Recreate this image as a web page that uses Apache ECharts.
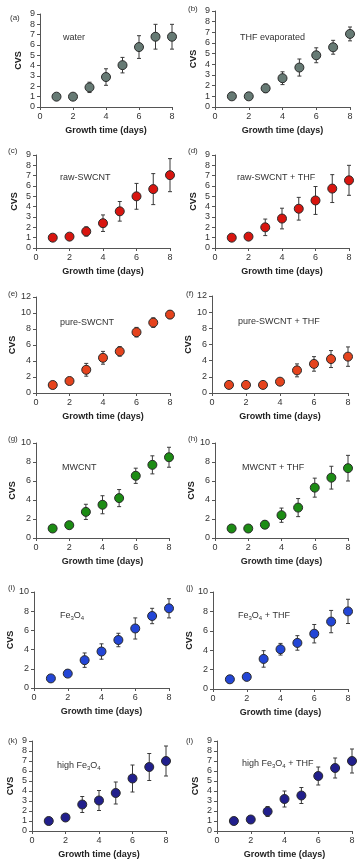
<!DOCTYPE html>
<html>
<head>
<meta charset="utf-8">
<script src="https://cdn.jsdelivr.net/npm/echarts@6/dist/echarts.min.js"></script>
<style>
  html, body { margin: 0; padding: 0; background: #fff; }
  #chart { width: 358px; height: 860px; }
</style>
</head>
<body>
<div id="chart"></div>
<script>
// growth time (days)
const days = [1, 2, 3, 4, 5, 6, 7, 8]

// mean CVS and error (+/-) for each condition
const waterMean = [1, 1, 1.9, 2.9, 4.05, 5.8, 6.8, 6.8]
const waterErr = [0, 0, 0.5, 0.8, 0.75, 1.1, 1.2, 1.2]
const thfEvapMean = [1, 1, 1.75, 2.7, 3.7, 4.85, 5.6, 6.85]
const thfEvapErr = [0, 0, 0.4, 0.6, 0.8, 0.7, 0.65, 0.65]
const rawMean = [1, 1.1, 1.6, 2.4, 3.55, 5.0, 5.7, 7.05]
const rawErr = [0, 0.15, 0.45, 0.8, 0.95, 1.25, 1.5, 1.6]
const rawThfMean = [1, 1.1, 2.0, 2.85, 3.8, 4.6, 5.75, 6.55]
const rawThfErr = [0, 0.15, 0.8, 1.0, 1.1, 1.35, 1.35, 1.45]
const pureMean = [1, 1.5, 2.9, 4.4, 5.2, 7.6, 8.8, 9.8]
const pureErr = [0, 0.2, 0.8, 0.8, 0.6, 0.6, 0.6, 0.5]
const pureThfMean = [1, 1, 1, 1.4, 2.8, 3.6, 4.2, 4.5]
const pureThfErr = [0, 0, 0, 0.4, 0.8, 0.9, 1.05, 1.2]
const mwMean = [1, 1.35, 2.75, 3.5, 4.2, 6.55, 7.7, 8.5]
const mwErr = [0, 0.15, 0.8, 0.95, 0.9, 0.8, 0.95, 1.05]
const mwThfMean = [1, 1, 1.4, 2.4, 3.2, 5.3, 6.35, 7.35]
const mwThfErr = [0, 0, 0.4, 0.75, 0.95, 1.0, 1.2, 1.35]
const feMean = [1, 1.5, 2.9, 3.8, 5.0, 6.2, 7.5, 8.3]
const feErr = [0, 0.2, 0.75, 0.8, 0.7, 1.1, 0.8, 1.0]
const feThfMean = [1, 1.25, 3.1, 4.1, 4.75, 5.7, 6.95, 8.0]
const feThfErr = [0, 0.1, 0.85, 0.6, 0.75, 0.95, 1.15, 1.25]
const highFeMean = [1, 1.35, 2.65, 3.05, 3.8, 5.25, 6.4, 7.0]
const highFeErr = [0, 0.1, 0.8, 1.0, 1.1, 1.35, 1.35, 1.5]
const highFeThfMean = [1, 1.15, 1.95, 3.2, 3.55, 5.5, 6.3, 7.0]
const highFeThfErr = [0, 0.1, 0.5, 0.8, 0.8, 0.9, 1.0, 1.2]

const panelTags = ['(a)', '(b)', '(c)', '(d)', '(e)', '(f)', '(g)', '(h)', '(i)', '(j)', '(k)', '(l)']
const panelNames = [
  'water', 'THF evaporated',
  'raw-SWCNT', 'raw-SWCNT + THF',
  'pure-SWCNT', 'pure-SWCNT + THF',
  'MWCNT', 'MWCNT + THF',
  'Fe{s|3}O{s|4}', 'Fe{s|3}O{s|4} + THF',
  'high Fe{s|3}O{s|4}', 'high Fe{s|3}O{s|4} + THF'
]
const yMax = [9, 9, 9, 9, 12, 12, 10, 10, 10, 10, 9, 9]
const yStep = [1, 1, 1, 1, 2, 2, 2, 2, 2, 2, 1, 1]
const means = [waterMean, thfEvapMean, rawMean, rawThfMean, pureMean, pureThfMean,
  mwMean, mwThfMean, feMean, feThfMean, highFeMean, highFeThfMean]
const errs = [waterErr, thfEvapErr, rawErr, rawThfErr, pureErr, pureThfErr,
  mwErr, mwThfErr, feErr, feThfErr, highFeErr, highFeThfErr]

// layout: [left, top, width, height] of each plot area
const boxes = [
  [40, 14, 132, 93], [215, 11, 135, 96],
  [36, 155, 134, 93], [215, 155, 134, 93],
  [36, 297, 134, 96], [212, 296, 136, 97],
  [36, 443, 133, 95], [215, 443, 133, 95],
  [34, 592, 135, 96], [213, 592, 135, 97],
  [32, 741, 134, 94], [217, 741, 135, 94]
]
const tagPos = [
  [5, 9], [183, 0], [3, 142], [183, 142], [3, 285], [181, 285],
  [3, 430], [183, 430], [3, 579], [181, 579], [3, 732], [181, 732]
]
const namePos = [
  [58, 28], [235, 28], [55, 168], [232, 168], [55, 313], [233, 312],
  [57, 458], [237, 458], [55, 606], [233, 606], [52, 756], [237, 754]
]
const colors = ['#667a74', '#667a74', '#d8150f', '#d8150f', '#e5431d', '#e5431d',
  '#1c8c14', '#1c8c14', '#2346d6', '#2346d6', '#211f8c', '#211f8c']

const chart = echarts.init(document.getElementById('chart'), null, { renderer: 'canvas' })

const font = 'Liberation Sans, Arial, sans-serif'
const grid = [], xAxis = [], yAxis = [], series = [], title = []

boxes.forEach((b, i) => {
  grid.push({ left: b[0], top: b[1], width: b[2], height: b[3] })
  xAxis.push({
    type: 'value', gridIndex: i, min: 0, max: 8, interval: 2,
    name: 'Growth time (days)', nameLocation: 'middle', nameGap: 19,
    nameTextStyle: { fontFamily: font, fontSize: 9, fontWeight: 'bold', color: '#222' },
    axisLine: { lineStyle: { color: '#555', width: 1 } },
    axisTick: { length: 3, lineStyle: { color: '#555' } },
    axisLabel: { fontFamily: font, fontSize: 9, color: '#333', margin: 5 },
    splitLine: { show: false }
  })
  yAxis.push({
    type: 'value', gridIndex: i, min: 0, max: yMax[i], interval: yStep[i],
    name: 'CVS', nameLocation: 'middle', nameGap: 17,
    nameTextStyle: { fontFamily: font, fontSize: 9, fontWeight: 'bold', color: '#222' },
    axisLine: { show: true, lineStyle: { color: '#555', width: 1 } },
    axisTick: { show: true, length: 3, lineStyle: { color: '#555' } },
    axisLabel: { fontFamily: font, fontSize: 9, color: '#333', margin: 5 },
    splitLine: { show: false }
  })
  const m = means[i], e = errs[i]
  series.push({
    type: 'custom', xAxisIndex: i, yAxisIndex: i,
    data: days.map((d, k) => [d, m[k] - e[k], m[k] + e[k]]),
    renderItem: (params, api) => {
      const lo = api.coord([api.value(0), api.value(1)])
      const hi = api.coord([api.value(0), api.value(2)])
      if (Math.abs(hi[1] - lo[1]) < 1) return null
      const st = { stroke: '#3a3a3a', lineWidth: 1 }
      return {
        type: 'group',
        children: [
          { type: 'line', shape: { x1: lo[0], y1: lo[1], x2: hi[0], y2: hi[1] }, style: st },
          { type: 'line', shape: { x1: hi[0] - 2, y1: hi[1], x2: hi[0] + 2, y2: hi[1] }, style: st },
          { type: 'line', shape: { x1: lo[0] - 2, y1: lo[1], x2: lo[0] + 2, y2: lo[1] }, style: st }
        ]
      }
    },
    z: 1, silent: true
  })
  series.push({
    type: 'scatter', xAxisIndex: i, yAxisIndex: i,
    data: days.map((d, k) => [d, m[k]]),
    symbol: 'circle', symbolSize: 9,
    itemStyle: { color: colors[i], borderColor: '#2a2a2a', borderWidth: 1, opacity: 1 },
    z: 3
  })
  title.push({
    text: panelTags[i], left: tagPos[i][0], top: tagPos[i][1],
    textStyle: { fontFamily: font, fontSize: 8, fontWeight: 'normal', color: '#333' }
  })
  title.push({
    text: panelNames[i], left: namePos[i][0], top: namePos[i][1],
    textStyle: {
      fontFamily: font, fontSize: 9, fontWeight: 'normal', color: '#333',
      rich: { s: { fontFamily: font, fontSize: 6, verticalAlign: 'bottom', padding: [4, 0, 0, 0], color: '#333' } }
    }
  })
})

chart.setOption({
  animation: false,
  backgroundColor: '#fff',
  title, grid, xAxis, yAxis, series
})
</script>
</body>
</html>
